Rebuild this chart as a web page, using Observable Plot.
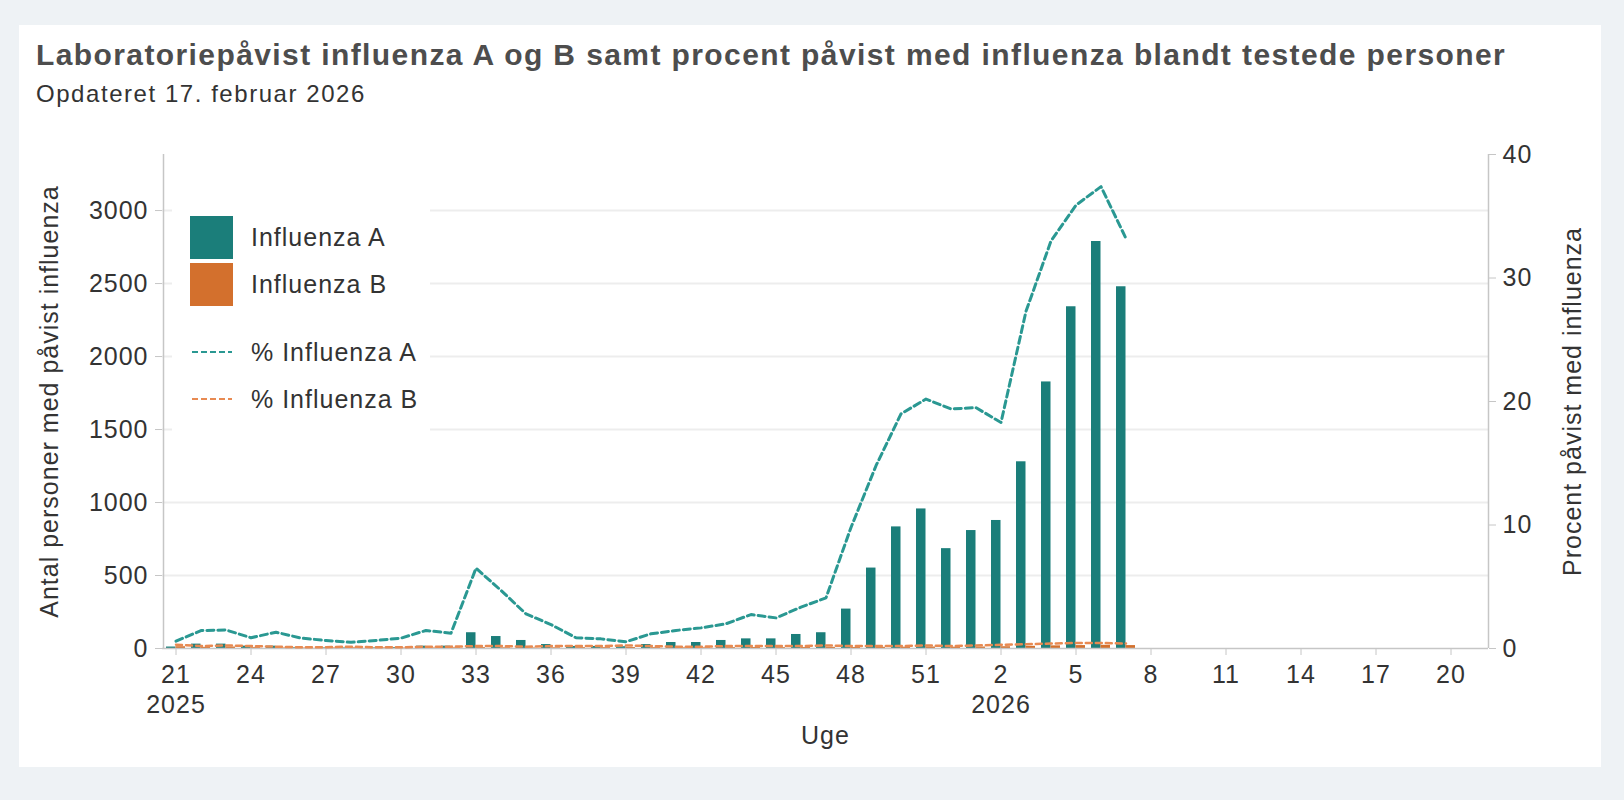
<!DOCTYPE html>
<html><head><meta charset="utf-8">
<script src="https://cdn.jsdelivr.net/npm/d3@7"></script>
<script src="https://cdn.jsdelivr.net/npm/@observablehq/plot@0.6"></script>
<style>
body{margin:0;background:#eef2f5;width:1624px;height:800px;overflow:hidden;font-family:"Liberation Sans",Arial,sans-serif;position:relative;}
#panel{position:absolute;left:19px;top:25px;width:1582px;height:742px;background:#fff;}
#title{position:absolute;left:36px;top:40px;font-weight:bold;font-size:30px;line-height:30px;color:#4d4d4d;white-space:nowrap;letter-spacing:1.4px;}
#subtitle{position:absolute;left:36px;top:82px;font-size:24px;line-height:24px;color:#333;white-space:nowrap;letter-spacing:1.55px;}
.layer{position:absolute;left:0;top:0;}
</style></head><body>
<div id="panel"></div>
<div id="title">Laboratoriepåvist influenza A og B samt procent påvist med influenza blandt testede personer</div>
<div id="subtitle">Opdateret 17. februar 2026</div>
<div id="c1" class="layer"></div>
<div id="c2" class="layer"></div>
<div id="legend" class="layer"></div>
<script>
// Week axis: 2025 week 21 .. 2026 week 21
const weeks2025 = [21,22,23,24,25,26,27,28,29,30,31,32,33,34,35,36,37,38,39,40,41,42,43,44,45,46,47,48,49,50,51,52];
const weeks2026 = [1,2,3,4,5,6,7,8,9,10,11,12,13,14,15,16,17,18,19,20,21];
// Number of persons with influenza A / B (weeks 2025-21 .. 2026-7)
const influenzaA = [10,30,30,16,16,5,4,4,4,6,16,16,108,82,55,27,14,14,12,27,41,41,55,66,66,96,108,270,551,833,956,684,808,877,1279,1826,2341,2788,2478];
const influenzaB = [12,8,10,6,4,3,4,5,4,3,4,5,6,5,4,5,6,6,7,6,5,5,6,7,6,7,8,7,8,9,10,9,10,12,15,18,20,22,20];
// Percent positive
const pctA = [0.6,1.45,1.5,0.87,1.32,0.84,0.65,0.5,0.65,0.84,1.46,1.24,6.5,4.7,2.8,1.94,0.87,0.78,0.55,1.19,1.46,1.67,2.0,2.75,2.48,3.35,4.1,9.8,14.8,19.0,20.2,19.4,19.5,18.3,27.3,33.0,35.9,37.4,33.2];
const pctB = [0.3,0.2,0.25,0.2,0.15,0.1,0.1,0.15,0.1,0.1,0.15,0.15,0.2,0.2,0.15,0.2,0.2,0.2,0.25,0.2,0.15,0.15,0.2,0.2,0.2,0.2,0.25,0.2,0.2,0.2,0.25,0.2,0.25,0.3,0.35,0.4,0.45,0.45,0.4];
const leftTicks = [0,500,1000,1500,2000,2500,3000];
const rightTicks = [0,10,20,30,40];
const yearLabels = [{key:"2025-21", text:"2025"},{key:"2026-2", text:"2026"}];
const seriesNames = ["Influenza A","Influenza B","% Influenza A","% Influenza B"];

const TEAL = "#1b7e7a", ORANGE = "#d3702d", TEAL_L = "#2a9892", ORANGE_L = "#e88a52";
const AXIS = "#c6c6c6", GRID = "#ededed", TXT = "#333";

const keys = [...weeks2025.map(w => "2025-" + w), ...weeks2026.map(w => "2026-" + w)];
const rows = influenzaA.map((a, i) => ({key: keys[i], a, b: influenzaB[i], pa: pctA[i], pb: pctB[i]}));
const tickKeys = keys.filter((k, i) => i % 3 === 0);

const W = 1624, H = 800;
const M = {marginLeft: 162, marginRight: 136, marginTop: 154, marginBottom: 152};
const style = {fontFamily: "'Liberation Sans', Arial, sans-serif", fontSize: "25px", color: TXT, background: "transparent", letterSpacing: "1px", overflow: "visible"};
const xOpt = {type: "band", domain: keys, padding: 0, axis: null};

const p1 = Plot.plot({
  width: W, height: H, ...M, style,
  x: xOpt,
  y: {domain: [0, 3384], axis: null},
  marks: [
    Plot.ruleY(leftTicks.slice(1), {stroke: GRID, strokeWidth: 2}),
    Plot.barY(rows, {x: "key", y: "a", fill: TEAL, insetLeft: 3, insetRight: 12.5}),
    Plot.barY(rows, {x: "key", y: "b", fill: ORANGE, insetLeft: 12.5, insetRight: 3}),
    Plot.ruleY([0], {stroke: AXIS, strokeWidth: 1.5}),
    Plot.ruleX([keys[0]], {dx: -12.5, y1: 0, y2: 3384, stroke: AXIS, strokeWidth: 1.5}),
    Plot.axisY(leftTicks, {anchor: "left", tickSize: 7, tickPadding: 7, label: null, stroke: AXIS, fill: TXT, tickFormat: d => String(d)}),
    Plot.axisX(tickKeys, {anchor: "bottom", tickSize: 7, tickPadding: 10, label: null, stroke: AXIS, fill: TXT, tickFormat: k => k.split("-")[1]}),
    Plot.text(yearLabels, {x: "key", text: "text", frameAnchor: "bottom", lineAnchor: "middle", textAnchor: "middle", dy: 56, fill: TXT}),
    Plot.text(["Antal personer med påvist influenza"], {frameAnchor: "left", textAnchor: "middle", lineAnchor: "middle", dx: -113, rotate: -90, fill: TXT}),
    Plot.text(["Uge"], {frameAnchor: "bottom", textAnchor: "middle", lineAnchor: "middle", dy: 87, fill: TXT})
  ]
});
document.getElementById("c1").append(p1);

const p2 = Plot.plot({
  width: W, height: H, ...M, style,
  x: xOpt,
  y: {domain: [0, 40], axis: null},
  marks: [
    Plot.ruleX([keys[keys.length - 1]], {dx: 12.5, y1: 0, y2: 40, stroke: AXIS, strokeWidth: 1.5}),
    Plot.axisY(rightTicks, {anchor: "right", tickSize: 7, tickPadding: 7, label: null, stroke: AXIS, fill: TXT, tickFormat: d => String(d)}),
    Plot.lineY(rows, {x: "key", y: "pb", stroke: ORANGE_L, strokeWidth: 2.5, strokeDasharray: "6,4"}),
    Plot.lineY(rows, {x: "key", y: "pa", stroke: TEAL_L, strokeWidth: 3, strokeDasharray: "7,4"}),
    Plot.text(["Procent påvist med influenza"], {frameAnchor: "right", textAnchor: "middle", lineAnchor: "middle", dx: 84, rotate: -90, fill: TXT})
  ]
});
document.getElementById("c2").append(p2);

// Legend
const lg = d3.select("#legend").append("svg").attr("width", W).attr("height", H)
  .style("font-family", "'Liberation Sans', Arial, sans-serif").style("font-size", "25px").style("letter-spacing", "1px");
lg.append("rect").attr("x", 172).attr("y", 198).attr("width", 258).attr("height", 238).attr("fill", "#fff");
lg.append("rect").attr("x", 190).attr("y", 216).attr("width", 43).attr("height", 43).attr("fill", TEAL);
lg.append("rect").attr("x", 190).attr("y", 263).attr("width", 43).attr("height", 43).attr("fill", ORANGE);
lg.append("line").attr("x1", 192).attr("x2", 232).attr("y1", 352).attr("y2", 352).attr("stroke", TEAL_L).attr("stroke-width", 2.2).attr("stroke-dasharray", "6,3");
lg.append("line").attr("x1", 192).attr("x2", 232).attr("y1", 399).attr("y2", 399).attr("stroke", ORANGE_L).attr("stroke-width", 2.2).attr("stroke-dasharray", "6,3");
[[246, 0], [293, 1], [361, 2], [408, 3]].forEach(([y, i]) => {
  lg.append("text").attr("x", 251).attr("y", y).attr("fill", TXT).text(seriesNames[i]);
});
</script>
</body></html>
